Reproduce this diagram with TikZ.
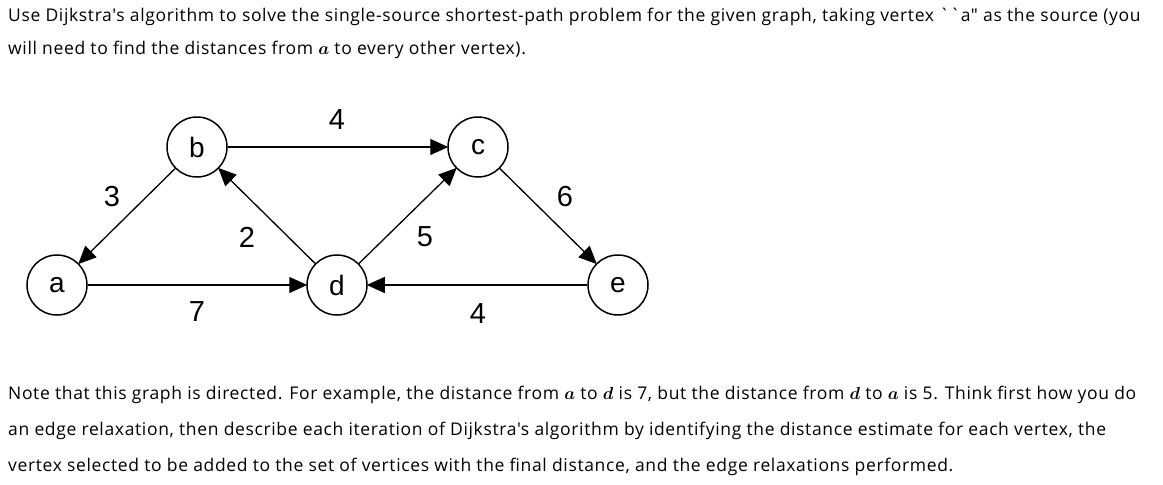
\documentclass[tikz,border=0pt]{standalone}
\usepackage{amsmath,bm}
\usepackage{fontspec}
\newfontfamily\txt{Open Sans}[LetterSpace=3.7]
\newfontfamily\lbl{Liberation Sans}
\usetikzlibrary{arrows.meta}
\begin{document}
\begin{tikzpicture}[x=1pt,y=-1pt,
  v/.style={circle,draw,line width=1.5pt,minimum size=60pt,inner sep=0pt,font=\lbl\fontsize{28}{28}\selectfont},
  e/.style={line width=1.3pt,-{Triangle[length=18pt,width=16pt]},shorten >=-1pt},
  w/.style={font=\lbl\fontsize{29}{29}\selectfont},
  t/.style={anchor=base west,inner sep=0pt,font=\txt\fontsize{17.5}{20}\selectfont}]
\useasboundingbox (0,0) rectangle (1163,485);
\node[v] (a) at (57,285) {a};
\node[v] (b) at (197,147) {b};
\node[v] (c) at (478,147) {c};
\node[v] (d) at (337,285) {d};
\node[v] (e) at (618,285) {e};
\draw[e] (b) -- (a);
\draw[e] (a) -- (d);
\draw[e] (d) -- (b);
\draw[e] (b) -- (c);
\draw[e] (d) -- (c);
\draw[e] (c) -- (e);
\draw[e] (e) -- (d);
\node[w] (l1) at (337,120) {4};
\node[w] (l2) at (112,197) {3};
\node[w] (l3) at (247,237) {2};
\node[w] (l4) at (425,237) {5};
\node[w] (l5) at (565,197) {6};
\node[w] (l6) at (197,312) {7};
\node[w] (l7) at (478,314) {4};
\node[t] (p1) at (8,21) {Use Dijkstra's algorithm to solve the single-source shortest-path problem for the given graph, taking vertex ``a" as the source (you};
\node[t] (p2) at (8,54) {will need to find the distances from $\bm{a}$ to every other vertex).};
\node[t] (q1) at (8,399) {Note that this graph is directed. For example, the distance from $\bm{a}$ to $\bm{d}$ is 7, but the distance from $\bm{d}$ to $\bm{a}$ is 5. Think first how you do};
\node[t] (q2) at (8,435) {an edge relaxation, then describe each iteration of Dijkstra's algorithm by identifying the distance estimate for each vertex, the};
\node[t] (q3) at (8,471) {vertex selected to be added to the set of vertices with the final distance, and the edge relaxations performed.};
\end{tikzpicture}
\end{document}
